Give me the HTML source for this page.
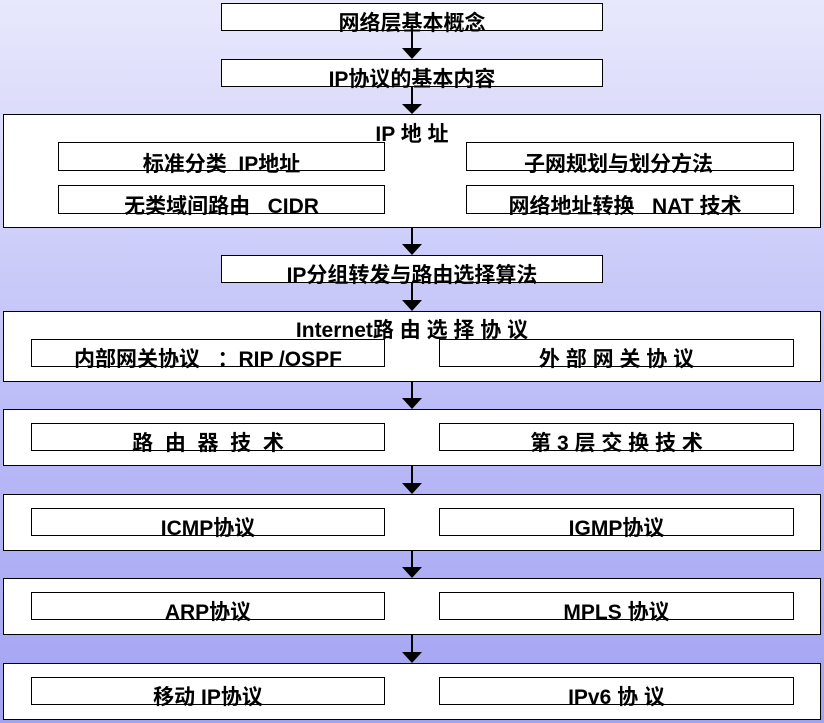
<!DOCTYPE html>
<html><head><meta charset="utf-8"><style>
html,body{margin:0;padding:0}
body{width:824px;height:723px;position:relative;overflow:hidden;
background:linear-gradient(#e8e8fc,#bdbdf8 55%,#a2a2f2);
font-family:"Liberation Sans","Noto Sans CJK SC",sans-serif;font-weight:bold;color:#000}
.b{position:absolute;background:#fff;border:1px solid #000;box-sizing:border-box}
.t{position:absolute;text-align:center;font-size:21px;line-height:22px;white-space:pre;margin-top:2px}
svg{position:absolute;left:0;top:0}
</style></head><body>
<svg width="824" height="723">
<g stroke="#000" stroke-width="2">
<line x1="412" y1="31" x2="412" y2="50"/>
<line x1="412" y1="87" x2="412" y2="106"/>
<line x1="412" y1="227" x2="412" y2="246"/>
<line x1="412" y1="283" x2="412" y2="302"/>
<line x1="412" y1="381" x2="412" y2="400"/>
<line x1="412" y1="465" x2="412" y2="485"/>
<line x1="412" y1="550" x2="412" y2="569"/>
<line x1="412" y1="634" x2="412" y2="654"/>
</g>
<g fill="#000">
<polygon points="402,48 422,48 412,59"/>
<polygon points="402,104 422,104 412,114"/>
<polygon points="402,244 422,244 412,255"/>
<polygon points="402,300 422,300 412,311"/>
<polygon points="402,398 422,398 412,409"/>
<polygon points="402,483 422,483 412,494"/>
<polygon points="402,567 422,567 412,578"/>
<polygon points="402,652 422,652 412,663"/>
</g>
</svg>

<div class="b" style="left:221px;top:3px;width:382px;height:28px"></div>
<div class="t" style="left:221px;width:382px;top:11px">网络层基本概念</div>
<div class="b" style="left:221px;top:59px;width:382px;height:28px"></div>
<div class="t" style="left:221px;width:382px;top:67px">IP协议的基本内容</div>

<div class="b" style="left:3px;top:114px;width:818px;height:114px"></div>
<div class="t" style="left:3px;width:818px;top:122px">IP 地 址</div>
<div class="b" style="left:58px;top:142px;width:327px;height:29px"></div>
<div class="t" style="left:58px;width:327px;top:152px">标准分类  IP地址</div>
<div class="b" style="left:58px;top:185px;width:327px;height:29px"></div>
<div class="t" style="left:58px;width:327px;top:194px">无类域间路由   CIDR</div>
<div class="b" style="left:466px;top:142px;width:328px;height:29px"></div>
<div class="t" style="left:466px;width:305px;top:152px">子网规划与划分方法</div>
<div class="b" style="left:466px;top:185px;width:328px;height:29px"></div>
<div class="t" style="left:466px;width:318px;top:194px">网络地址转换   NAT 技术</div>

<div class="b" style="left:221px;top:255px;width:382px;height:28px"></div>
<div class="t" style="left:221px;width:382px;top:263px">IP分组转发与路由选择算法</div>

<div class="b" style="left:3px;top:311px;width:818px;height:71px"></div>
<div class="t" style="left:3px;width:818px;top:318px">Internet路 由 选 择 协 议</div>
<div class="b" style="left:31px;top:339px;width:354px;height:28px"></div>
<div class="t" style="left:31px;width:354px;top:347px">内部网关协议   ：RIP /OSPF</div>
<div class="b" style="left:439px;top:339px;width:355px;height:28px"></div>
<div class="t" style="left:439px;width:355px;top:347px">外 部 网 关 协 议</div>

<div class="b" style="left:3px;top:409px;width:818px;height:57px"></div>
<div class="b" style="left:31px;top:423px;width:354px;height:28px"></div>
<div class="t" style="left:31px;width:354px;top:431px">路  由  器  技  术</div>
<div class="b" style="left:439px;top:423px;width:355px;height:28px"></div>
<div class="t" style="left:439px;width:355px;top:431px">第 3 层 交 换 技 术</div>

<div class="b" style="left:3px;top:494px;width:818px;height:57px"></div>
<div class="b" style="left:31px;top:508px;width:354px;height:28px"></div>
<div class="t" style="left:31px;width:354px;top:516px">ICMP协议</div>
<div class="b" style="left:439px;top:508px;width:355px;height:28px"></div>
<div class="t" style="left:439px;width:355px;top:516px">IGMP协议</div>

<div class="b" style="left:3px;top:578px;width:818px;height:57px"></div>
<div class="b" style="left:31px;top:592px;width:354px;height:28px"></div>
<div class="t" style="left:31px;width:354px;top:600px">ARP协议</div>
<div class="b" style="left:439px;top:592px;width:355px;height:28px"></div>
<div class="t" style="left:439px;width:355px;top:600px">MPLS 协议</div>

<div class="b" style="left:3px;top:663px;width:818px;height:57px"></div>
<div class="b" style="left:31px;top:677px;width:354px;height:28px"></div>
<div class="t" style="left:31px;width:354px;top:685px">移动 IP协议</div>
<div class="b" style="left:439px;top:677px;width:355px;height:28px"></div>
<div class="t" style="left:439px;width:355px;top:685px">IPv6 协 议</div>
</body></html>
